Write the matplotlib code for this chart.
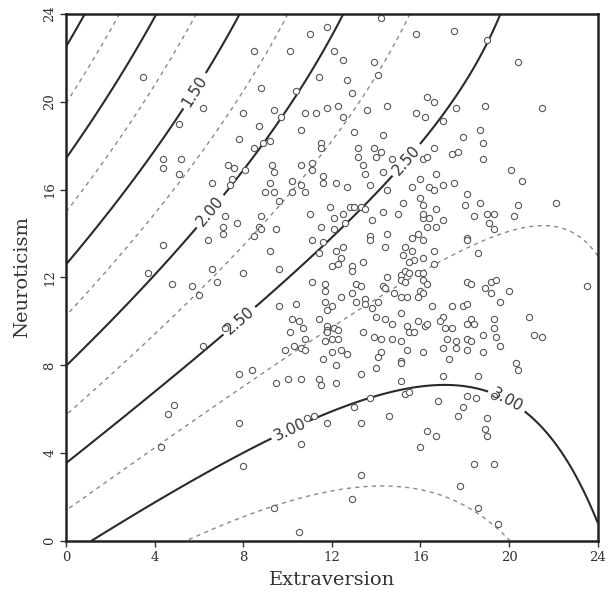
import numpy as np
import matplotlib
matplotlib.use("Agg")
import matplotlib.pyplot as plt

# ---- contour trace points: (level, Extraversion, Neuroticism)
contour_levels_read = [
    0.50, 0.50,
    0.75, 0.75,
    1.00, 1.00,
    1.25, 1.25, 1.25,
    1.50, 1.50, 1.50, 1.50, 1.50,
    1.75, 1.75, 1.75, 1.75,
    2.00, 2.00, 2.00, 2.00, 2.00, 2.00, 2.00,
    2.25, 2.25, 2.25, 2.25, 2.25, 2.25, 2.25,
    2.50, 2.50, 2.50, 2.50, 2.50, 2.50, 2.50, 2.50, 2.50, 2.50, 2.50, 2.50,
    2.75, 2.75, 2.75, 2.75, 2.75, 2.75, 2.75, 2.75, 2.75,
    3.00, 3.00, 3.00, 3.00, 3.00, 3.00, 3.00, 3.00, 3.00, 3.00, 3.00, 3.00, 3.00,
    3.25, 3.25, 3.25, 3.25, 3.25, 3.25, 3.25, 3.25,
]
contour_E_read = [
    0.0, 0.9,
    0.0, 2.4,
    0.0, 4.1,
    0.0, 0.86, 5.8,
    0.0, 2.8, 5.8, 7.8, 7.85,
    0.0, 4.9, 6.6, 9.95,
    0.0, 6.3, 7.85, 9.0, 10.4, 11.8, 12.5,
    0.0, 2.6, 7.85, 9.8, 10.7, 12.8, 15.4,
    0.0, 5.7, 7.2, 8.6, 10.4, 11.5, 13.1, 14.3, 16.2, 17.0, 19.0, 19.6,
    0.0, 8.1, 9.5, 13.85, 16.2, 18.6, 20.9, 22.3, 24.0,
    1.3, 7.85, 9.3, 10.9, 13.0, 14.6, 16.2, 17.5, 19.0, 20.8, 22.3, 23.5, 24.0,
    5.6, 7.85, 9.4, 13.6, 15.0, 16.2, 18.6, 20.1,
]
contour_N_read = [
    22.4, 24.0,
    20.1, 24.0,
    17.4, 24.0,
    15.1, 16.0, 24.0,
    12.5, 16.1, 20.5, 23.1, 24.0,
    10.4, 16.1, 18.3, 24.0,
    8.0, 14.6, 16.8, 18.2, 20.6, 22.7, 24.0,
    5.9, 8.0, 13.2, 15.5, 16.0, 20.1, 24.0,
    3.5, 8.25, 9.6, 10.7, 12.25, 13.2, 15.1, 16.2, 18.2, 19.2, 22.8, 24.0,
    1.4, 7.1, 8.15, 10.9, 12.0, 13.5, 14.2, 13.9, 12.6,
    0.0, 3.9, 4.7, 5.6, 6.3, 6.8, 7.15, 7.2, 6.9, 5.8, 4.3, 2.2, 0.5,
    0.0, 1.1, 1.55, 2.5, 2.5, 2.3, 1.4, 0.0,
]

solid_levels = [0.50, 1.00, 1.50, 2.00, 2.50, 3.00]
dashed_levels = [0.75, 1.25, 1.75, 2.25, 2.75, 3.25]
label_E = [5.8, 6.4, 7.85, 15.3, 10.1, 19.9]
label_N = [20.5, 15.1, 10.0, 17.4, 5.15, 6.4]

# ---- observed subjects (Extraversion, Neuroticism)
extraversion = [
    3.5, 6.2, 5.1, 4.4, 4.4, 5.2, 5.1, 6.6, 7.3, 7.6, 8.0, 7.8, 7.5, 7.4,
    11.0, 11.8, 8.5, 10.1, 11.4, 8.8, 10.4, 9.4, 9.7, 10.8, 11.3, 11.8, 8.7, 10.6,
    14.2, 15.8, 12.1, 12.5, 13.9, 14.1, 12.7, 12.9, 12.3, 13.6, 14.5, 15.8, 12.5, 13.0,
    14.3, 8.5, 8.9, 9.2, 11.5, 11.5, 13.2, 13.9, 13.2, 14.0, 14.2, 14.7, 9.3, 9.4,
    10.6, 11.1, 11.1, 13.4, 13.5, 14.3, 16.0, 8.1, 9.2, 10.2, 10.6, 11.6, 11.6, 12.2,
    12.7, 13.7, 15.6, 16.1,
    17.5, 19.0, 20.4, 16.3, 16.6, 17.6, 18.9, 21.5, 16.2, 17.0, 18.7, 17.9, 18.8, 16.6,
    16.3, 17.4, 17.7, 18.8, 16.7, 20.1, 20.6, 16.4, 17.0, 17.5,
    7.2, 7.1, 7.1, 7.7, 6.4, 4.4, 6.6, 6.8, 5.7, 6.0, 4.8, 3.7, 8.0, 7.2, 6.2,
    9.0, 9.4, 10.2, 10.8, 9.6, 11.9, 14.5, 16.0, 16.1, 8.8, 8.7, 8.8, 8.5, 9.5,
    11.0, 12.1, 12.5, 12.8, 13.0, 13.3, 13.5, 13.8, 14.3, 15.0, 15.2, 16.1, 11.5, 11.1,
    11.6, 12.1, 12.6, 13.7, 13.7, 14.5, 15.6, 14.4, 15.9, 9.2, 11.4, 12.2, 12.5, 15.3,
    15.6, 15.2, 15.7, 16.1, 12.0, 12.3, 12.4, 12.9, 12.9, 13.4, 15.5, 9.6, 14.5, 15.1,
    15.3, 15.5, 15.9, 16.1, 15.1, 15.3, 16.1, 11.1, 11.7, 11.7, 13.1, 13.3, 14.3, 14.4,
    14.8, 16.0, 16.1, 12.9, 12.4, 15.4, 10.4, 11.7, 12.0, 13.1, 13.5, 13.5, 14.1, 15.1,
    15.9, 9.6, 11.8, 13.8, 10.2, 10.5, 11.4, 10.7, 14.0, 14.4, 14.7, 15.1, 15.4, 15.9,
    10.1, 11.8, 11.8, 12.1, 12.3, 11.8, 12.0, 12.3, 13.4, 13.9, 14.2, 14.7, 15.5, 15.7,
    10.8, 11.7, 10.3, 10.6, 10.8, 9.9, 12.0, 12.4, 12.7, 11.6, 14.2, 14.1, 15.1, 15.4,
    15.1,
    16.6, 18.1, 18.0, 18.7, 20.4, 22.1, 16.1, 16.4, 16.7, 17.0, 16.7, 16.3, 18.4, 19.0,
    19.3, 19.1, 19.3, 20.2, 16.1, 18.1, 18.1, 18.6, 16.6, 16.6, 16.3, 18.1, 18.3, 19.2,
    19.4, 18.9, 19.2, 20.0, 19.6, 23.5, 16.5, 17.4, 17.9, 18.1, 17.0, 16.9, 17.1, 17.4,
    16.2, 16.3, 18.3, 18.1, 18.4, 19.3, 19.3, 20.9, 18.8, 19.4, 21.1, 21.5, 17.2, 17.6,
    18.1, 18.3, 17.0, 17.6, 18.1, 19.6, 16.1, 18.8, 17.3, 20.3,
    4.6, 4.9, 4.3, 7.8, 7.8, 8.0,
    8.4, 9.5, 10.0, 10.6, 11.4, 11.5, 12.2, 12.2, 13.3, 14.0, 15.1, 15.1, 15.3, 15.5,
    13.7, 13.0, 14.6, 13.3, 11.8, 10.9, 11.2, 10.6, 16.0, 13.3, 12.9, 9.4, 10.5,
    20.4, 17.0, 18.6, 16.8, 18.1, 18.5, 19.3, 17.9, 17.7, 19.0, 18.9, 19.0, 16.3, 16.7,
    18.4, 19.3, 17.8, 18.6, 19.5,
]
neuroticism = [
    21.1, 19.7, 19.0, 17.4, 17.0, 17.4, 16.7, 16.3, 17.1, 17.0, 19.5, 18.3, 16.5, 16.2,
    23.1, 23.4, 22.3, 22.3, 21.1, 20.6, 20.5, 19.6, 19.3, 19.5, 19.5, 19.7, 18.9, 18.7,
    23.8, 23.1, 22.3, 21.9, 21.8, 21.2, 21.0, 20.4, 19.8, 19.6, 19.8, 19.5, 19.3, 18.6,
    18.5, 17.9, 18.1, 18.2, 18.1, 17.9, 17.9, 17.9, 17.5, 17.5, 17.7, 17.4, 17.1, 16.8,
    17.1, 17.2, 16.9, 17.1, 16.7, 16.8, 16.5, 16.9, 16.3, 16.4, 16.2, 16.6, 16.3, 16.3,
    16.1, 16.2, 16.1, 17.4,
    23.2, 22.8, 21.8, 20.2, 20.0, 19.7, 19.8, 19.7, 19.3, 19.1, 18.7, 18.4, 18.1, 17.9,
    17.5, 17.6, 17.7, 17.4, 16.7, 16.9, 16.4, 16.1, 16.2, 16.3,
    14.8, 14.3, 14.0, 14.5, 13.7, 13.5, 12.4, 11.8, 11.6, 11.2, 11.7, 12.2, 12.2, 9.7, 8.9,
    15.9, 15.9, 15.9, 15.9, 15.5, 15.2, 16.0, 15.6, 15.3, 14.8, 14.3, 14.2, 13.9, 14.2,
    14.9, 14.7, 14.9, 15.2, 15.2, 15.2, 15.1, 14.6, 15.0, 14.9, 15.4, 14.7, 14.3, 13.7,
    13.6, 14.2, 14.5, 13.9, 13.7, 14.0, 13.8, 13.4, 14.0, 13.2, 13.1, 13.2, 13.4, 13.4,
    13.2, 13.0, 12.8, 12.9, 12.5, 12.6, 12.9, 12.5, 12.3, 12.7, 12.7, 12.4, 12.0, 12.1,
    12.3, 12.2, 12.2, 12.2, 11.9, 11.8, 11.9, 11.8, 11.7, 11.4, 11.7, 11.6, 11.6, 11.5,
    11.3, 11.4, 11.3, 11.3, 11.1, 11.1, 10.8, 10.9, 10.7, 10.9, 11.0, 10.8, 10.9, 11.1,
    11.1, 10.7, 10.5, 10.6, 10.1, 10.0, 10.1, 9.7, 10.2, 10.1, 9.9, 10.4, 9.8, 10.0,
    9.5, 9.8, 9.6, 9.7, 9.6, 9.5, 9.2, 9.2, 9.5, 9.3, 9.2, 9.2, 9.5, 9.5,
    9.2, 9.1, 8.9, 8.8, 8.7, 8.7, 8.6, 8.7, 8.5, 8.3, 8.6, 8.4, 9.1, 8.7,
    8.2,
    16.0, 15.8, 15.3, 15.4, 15.3, 15.4, 14.9, 14.7, 15.1, 14.6, 14.3, 14.3, 14.8, 14.9,
    14.9, 14.5, 14.2, 14.8, 13.7, 13.8, 13.7, 13.1, 13.2, 12.6, 11.7, 11.8, 11.7, 11.8,
    11.9, 11.5, 11.3, 11.4, 10.9, 11.6, 10.7, 10.7, 10.7, 10.8, 10.2, 10.0, 9.7, 9.7,
    9.8, 9.9, 10.1, 9.9, 9.9, 10.1, 9.7, 10.2, 9.4, 9.3, 9.4, 9.3, 9.2, 9.1,
    9.2, 9.1, 8.8, 8.8, 8.7, 8.9, 8.6, 8.6, 8.3, 8.1,
    5.8, 6.2, 4.3, 7.6, 5.4, 3.4,
    7.8, 7.2, 7.4, 7.4, 7.4, 7.1, 8.0, 7.2, 7.6, 7.9, 8.1, 7.3, 6.7, 6.8,
    6.5, 6.1, 5.7, 5.4, 5.4, 5.6, 5.7, 4.4, 4.3, 3.0, 1.9, 1.5, 0.4,
    7.8, 7.5, 7.5, 6.4, 6.6, 6.5, 6.6, 6.1, 5.7, 5.6, 5.1, 4.8, 5.0, 4.8,
    3.5, 3.5, 2.5, 1.5, 0.8,
]

# ---- fit a quadratic response surface to the traced contour points
cE = np.array(contour_E_read)
cN = np.array(contour_N_read)
cL = np.array(contour_levels_read)
A = np.column_stack([np.ones_like(cE), cE, cN, cE**2, cN**2, cE*cN])
coef, *_ = np.linalg.lstsq(A, cL, rcond=None)

g = np.linspace(0, 24, 300)
GE, GN = np.meshgrid(g, g)
Z = (coef[0] + coef[1]*GE + coef[2]*GN + coef[3]*GE**2
     + coef[4]*GN**2 + coef[5]*GE*GN)

plt.rcParams['font.family'] = ['DejaVu Serif']

fig = plt.figure(figsize=(6.10, 5.98), dpi=100)
ax = fig.add_axes([0.108, 0.095, 0.872, 0.882])

cs_d = ax.contour(GE, GN, Z, levels=dashed_levels, colors='#8a8a8a',
                  linewidths=1.0, linestyles=[(0, (3.0, 3.0))])
cs_s = ax.contour(GE, GN, Z, levels=solid_levels, colors='#2a2a2a',
                  linewidths=1.5, linestyles='solid')
lbls = ax.clabel(cs_s, fmt='%.2f', inline=True,
                 inline_spacing=4, fontsize=11, colors='#333333',
                 manual=list(zip(label_E, label_N)))
for t in lbls:
    t.set_fontfamily('DejaVu Sans')

ax.plot(extraversion, neuroticism, linestyle='none', marker='o',
        markersize=4.5, markerfacecolor='white', markeredgecolor='#555555',
        markeredgewidth=0.8)

ax.set_xlim(0, 24)
ax.set_ylim(0, 24)
ticks = [0, 4, 8, 12, 16, 20, 24]
ax.set_xticks(ticks)
ax.set_yticks(ticks)
ax.set_xticklabels([str(t) for t in ticks])
ax.set_yticklabels([str(t) for t in ticks], rotation=90, va='center')
ax.tick_params(direction='out', length=4, width=1.0, labelsize=9.5,
               colors='#333333', pad=3)
for sp in ax.spines.values():
    sp.set_linewidth(1.8)
    sp.set_color('#222222')

ax.set_xlabel('Extraversion', fontsize=14, color='#333333', labelpad=5)
ax.set_ylabel('Neuroticism', fontsize=14, color='#333333', labelpad=9)

fig.savefig('out.png', dpi=100)
